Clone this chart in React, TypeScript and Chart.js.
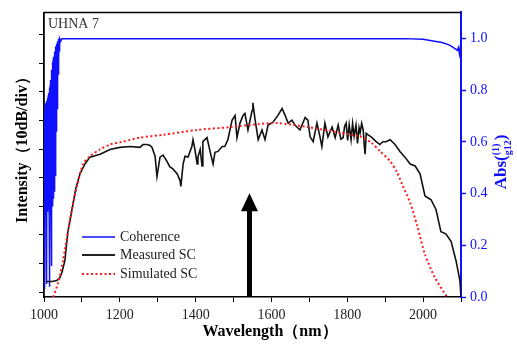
import React, { useEffect, useRef } from "react";
import { Chart, registerables } from "chart.js";

Chart.register(...registerables);

// ---- data ----
const measuredNm = [
  1005, 1021, 1034, 1042, 1047, 1055, 1063, 1077, 1084, 1095, 1108, 1121, 1148, 1174, 1200, 1227, 1253, 1261, 1272, 1280,
  1285, 1293, 1298, 1306, 1314, 1324, 1332, 1340, 1351, 1359, 1361, 1367, 1372, 1380, 1390, 1393, 1398, 1404, 1406, 1412,
  1417, 1419, 1430, 1438, 1446, 1451, 1459, 1470, 1477, 1485, 1496, 1504, 1509, 1517, 1525, 1530, 1538, 1549, 1551, 1557,
  1565, 1575, 1583, 1591, 1604, 1617, 1628, 1636, 1644, 1654, 1662, 1675, 1689, 1696, 1702, 1710, 1720, 1728, 1733, 1741,
  1749, 1760, 1768, 1776, 1783, 1789, 1793, 1797, 1801, 1805, 1810, 1814, 1818, 1823, 1827, 1831, 1834, 1838, 1842, 1845,
  1847, 1850, 1855, 1863, 1876, 1886, 1894, 1902, 1913, 1926, 1939, 1952, 1966, 1979, 1992, 2005, 2021, 2034, 2047, 2060,
  2074, 2087, 2097, 2100,
];
const measuredDb = [
  3.7, 3.7, 4.1, 5.1, 6.8, 10.9, 21.1, 31.2, 36.3, 41.4, 44.8, 47.2, 48.2, 49.9, 50.6, 50.9, 50.6, 51.6, 51.6, 51.3,
  50.6, 47.5, 40.4, 47.2, 47.9, 45.8, 43.8, 43.1, 41.4, 39.0, 37.0, 44.8, 47.5, 47.2, 50.9, 53.3, 49.9, 44.8, 47.2, 49.9,
  44.1, 52.6, 54.0, 49.2, 44.8, 48.9, 49.2, 50.9, 50.9, 53.3, 60.1, 61.8, 54.0, 59.1, 61.8, 62.5, 56.7, 63.5, 66.2, 60.1,
  53.3, 56.7, 53.3, 58.4, 59.4, 61.8, 64.2, 61.8, 59.1, 60.1, 58.4, 56.7, 61.1, 60.1, 54.3, 52.6, 59.1, 54.3, 50.9, 59.1,
  54.3, 57.7, 54.0, 58.4, 53.5, 54.0, 58.0, 59.1, 53.0, 58.5, 53.3, 59.0, 54.5, 58.4, 52.0, 57.5, 55.7, 59.0, 56.7, 51.0,
  48.2, 55.5, 55.0, 54.3, 52.6, 51.6, 52.6, 52.6, 53.3, 51.6, 49.2, 47.2, 44.8, 44.1, 41.4, 33.6, 32.3, 28.9, 21.1, 20.4,
  17.7, 10.9, 4.1, -1.7,
];

const simulatedNm = [
  1024, 1037, 1050, 1063, 1077, 1087, 1103, 1121, 1148, 1174, 1208, 1253, 1314, 1404, 1491, 1570, 1617, 1696, 1783, 1836,
  1863, 1886, 1913, 1931, 1947, 1966, 1984, 2005, 2031, 2063,
];
const simulatedDb = [
  -1.7, 3.1, 10.9, 21.1, 31.2, 37.0, 44.8, 47.5, 49.9, 51.6, 52.6, 54.0, 55.0, 56.7, 57.7, 58.8, 59.1, 57.7, 55.7, 54.3,
  52.3, 49.3, 45.8, 42.0, 37.0, 31.2, 23.4, 13.2, 5.1, -1.7,
];

const coherenceNm = [
  1000, 1000.5, 1001, 1001.5, 1002, 1002.5, 1003, 1003.5, 1004, 1004.5, 1005, 1005.5, 1006, 1006.5, 1007, 1007.5,
  1008, 1008.5, 1009, 1009.5, 1010, 1010.5, 1011, 1011.5, 1012, 1012.5, 1013, 1013.5, 1014, 1014.5, 1015, 1015.5,
  1016, 1016.5, 1017, 1017.5, 1018, 1018.5, 1019, 1019.5, 1020, 1020.5, 1021, 1021.5, 1022, 1022.5, 1023, 1023.5,
  1024, 1024.5, 1025, 1025.5, 1026, 1026.5, 1027, 1027.5, 1028, 1028.5, 1029, 1029.5, 1030, 1030.5, 1031, 1031.5,
  1032, 1032.5, 1033, 1033.5, 1034, 1034.5, 1035, 1035.5, 1036, 1036.5, 1037, 1037.5, 1038, 1038.5, 1039, 1039.5,
  1040, 1040.5, 1041, 1041.5, 1042, 1044, 1047, 1050, 1060, 1200, 1400, 1600, 1800, 1950, 2000, 2030, 2050, 2070,
  2085, 2090, 2093, 2096, 2098, 2100,
];
const coherenceAbs = [
  0.68, 0.30, 0.72, 0.03, 0.70, 0.34, 0.74, 0.32, 0.73, 0.36, 0.75, 0.33, 0.70, 0.35, 0.76, 0.05,
  0.74, 0.34, 0.77, 0.37, 0.75, 0.33, 0.78, 0.36, 0.79, 0.34, 0.77, 0.37, 0.80, 0.04, 0.81, 0.35,
  0.82, 0.36, 0.80, 0.34, 0.84, 0.37, 0.85, 0.35, 0.87, 0.12, 0.88, 0.36, 0.89, 0.35, 0.91, 0.37,
  0.92, 0.38, 0.91, 0.40, 0.93, 0.41, 0.94, 0.42, 0.95, 0.43, 0.95, 0.47, 0.96, 0.52, 0.97, 0.58,
  0.97, 0.64, 0.98, 0.68, 0.98, 0.73, 0.98, 0.78, 0.99, 0.82, 0.99, 0.86, 0.99, 0.89, 1.0, 0.92,
  1.0, 0.95, 1.0, 0.97, 1.0, 0.99, 1.0, 1.0, 1.0, 1.0, 1.0, 1.0, 1.0, 1.0, 0.998, 0.99, 0.985, 0.975,
  0.96, 0.955, 0.965, 0.94, 0.965, 0.95,
];

const xTicks = [1000, 1100, 1200, 1300, 1400, 1500, 1600, 1700, 1800, 1900, 2000, 2100];
const leftTicks = [0, 10, 20, 30, 40, 50, 60, 70, 80, 90];
const rightTicks = [0, 0.2, 0.4, 0.6, 0.8, 1.0];

const legendLabels = ["Coherence", "Measured SC", "Simulated SC"];
const pumpNm = 1542;
const pumpArrowTopDb = 34.6;

const BLUE = "#1010ff";
const RED = "#ff1a1a";
const BLACK = "#000000";
const SERIF = '"Liberation Serif", "Times New Roman", serif';

const toPoints = (xs: number[], ys: number[]) => xs.map((x, i) => ({ x, y: ys[i] }));

const decorPlugin = {
  id: "decor",
  afterDraw(chart: any) {
    const { ctx, chartArea, scales } = chart;
    const { left, right, top, bottom } = chartArea;
    ctx.save();

    // top border
    ctx.strokeStyle = BLACK;
    ctx.lineWidth = 1.5;
    ctx.beginPath();
    ctx.moveTo(left, top);
    ctx.lineTo(right, top);
    ctx.stroke();

    // UHNA 7 label
    ctx.fillStyle = "#333";
    ctx.font = `14px ${SERIF}`;
    ctx.textBaseline = "middle";
    ctx.textAlign = "left";
    ctx.fillText("UHNA 7", left + 4, top + 12);

    // legend
    const rows = [237, 255, 274];
    const styles = [
      { color: BLUE, dash: [] as number[], width: 1.5 },
      { color: "#222", dash: [] as number[], width: 2 },
      { color: RED, dash: [2, 2.5], width: 2 },
    ];
    rows.forEach((ry, i) => {
      const st = styles[i];
      ctx.strokeStyle = st.color;
      ctx.lineWidth = st.width;
      ctx.setLineDash(st.dash);
      ctx.beginPath();
      ctx.moveTo(82, ry);
      ctx.lineTo(115, ry);
      ctx.stroke();
      ctx.setLineDash([]);
      ctx.fillStyle = "#222";
      ctx.font = `14px ${SERIF}`;
      ctx.textAlign = "left";
      ctx.textBaseline = "middle";
      ctx.fillText(legendLabels[i], 120, ry + 0.5);
    });

    // pump arrow
    const ax = scales.x.getPixelForValue(pumpNm);
    const ay = scales.y.getPixelForValue(pumpArrowTopDb);
    ctx.fillStyle = BLACK;
    ctx.fillRect(ax - 2.5, ay + 17, 5, bottom - (ay + 17));
    ctx.beginPath();
    ctx.moveTo(ax, ay);
    ctx.lineTo(ax - 8.5, ay + 18);
    ctx.lineTo(ax + 8.5, ay + 18);
    ctx.closePath();
    ctx.fill();

    // x title
    ctx.fillStyle = BLACK;
    ctx.font = `bold 16px ${SERIF}`;
    ctx.textAlign = "center";
    ctx.textBaseline = "middle";
    ctx.fillText("Wavelength\uFF08nm\uFF09", 270, 332);

    // left title
    ctx.save();
    ctx.translate(23, 146);
    ctx.rotate(-Math.PI / 2);
    ctx.font = `bold 16px ${SERIF}`;
    ctx.textAlign = "center";
    ctx.textBaseline = "middle";
    ctx.fillText("Intensity\uFF0810dB/div\uFF09", 0, 0);
    ctx.restore();

    // right title: Abs(g12^(1))
    ctx.save();
    ctx.translate(502, 162);
    ctx.rotate(-Math.PI / 2);
    ctx.fillStyle = BLUE;
    ctx.textBaseline = "middle";
    ctx.textAlign = "left";
    const big = `bold 17px ${SERIF}`;
    const small = `bold 10px ${SERIF}`;
    ctx.font = big;
    const wA = ctx.measureText("Abs(").width;
    const wC = ctx.measureText(")").width;
    ctx.font = small;
    const wSup = ctx.measureText("(1)").width;
    const wSub = ctx.measureText("g12").width;
    const wMid = Math.max(wSup, wSub);
    const total = wA + wMid + wC;
    const x0 = -total / 2;
    ctx.font = big;
    ctx.fillText("Abs(", x0, 0);
    ctx.font = small;
    ctx.fillText("(1)", x0 + wA, -6);
    ctx.fillText("g12", x0 + wA, 6);
    ctx.font = big;
    ctx.fillText(")", x0 + wA + wMid, 0);
    ctx.restore();

    ctx.restore();
  },
};

export default function App() {
  const ref = useRef<HTMLCanvasElement>(null);

  useEffect(() => {
    const canvas = ref.current;
    if (!canvas) return;
    const tickFont = { family: SERIF, size: 14 };
    const chart = new Chart(canvas, {
      type: "line",
      data: {
        datasets: [
          {
            label: "Simulated SC",
            data: toPoints(simulatedNm, simulatedDb),
            yAxisID: "y",
            borderColor: RED,
            borderWidth: 2,
            borderDash: [2, 2.5],
            pointRadius: 0,
            tension: 0.25,
            fill: false,
          },
          {
            label: "Measured SC",
            data: toPoints(measuredNm, measuredDb),
            yAxisID: "y",
            borderColor: "#111",
            borderWidth: 1.6,
            pointRadius: 0,
            tension: 0,
            fill: false,
          },
          {
            label: "Coherence",
            data: toPoints(coherenceNm, coherenceAbs),
            yAxisID: "y2",
            borderColor: BLUE,
            borderWidth: 1.5,
            pointRadius: 0,
            tension: 0,
            fill: false,
          },
        ],
      },
      options: {
        responsive: false,
        animation: false,
        layout: { padding: { top: 4, left: 0, right: 0, bottom: 0 } },
        plugins: { legend: { display: false }, tooltip: { enabled: false } },
        scales: {
          x: {
            type: "linear",
            position: "bottom",
            min: 1000,
            max: 2100,
            afterBuildTicks: (s: any) => {
              s.ticks = xTicks.map((v) => ({ value: v }));
            },
            afterFit: (s: any) => {
              s.height = 49;
            },
            ticks: {
              autoSkip: false,
              maxRotation: 0,
              color: "#222",
              font: tickFont,
              padding: 5,
              callback: (v: any) => (Number(v) % 200 === 0 ? String(v) : ""),
            },
            grid: { drawOnChartArea: false, drawTicks: true, tickLength: 5, color: BLACK, tickWidth: 1 },
            border: { color: BLACK, width: 1.5 },
          },
          y: {
            type: "linear",
            position: "left",
            min: -1.7,
            max: 97.8,
            afterBuildTicks: (s: any) => {
              s.ticks = leftTicks.map((v) => ({ value: v }));
            },
            afterFit: (s: any) => {
              s.width = 44;
            },
            ticks: { display: false },
            grid: { drawOnChartArea: false, drawTicks: true, tickLength: 5, color: BLACK, tickWidth: 1 },
            border: { color: BLACK, width: 1.8 },
          },
          y2: {
            type: "linear",
            position: "right",
            min: 0,
            max: 1.1015,
            afterBuildTicks: (s: any) => {
              s.ticks = rightTicks.map((v) => ({ value: v }));
            },
            afterFit: (s: any) => {
              s.width = 56;
            },
            ticks: {
              color: BLUE,
              font: tickFont,
              padding: 4,
              callback: (v: any) => Number(v).toFixed(1),
            },
            grid: { drawOnChartArea: false, drawTicks: true, tickLength: 5, color: BLUE, tickWidth: 1.5 },
            border: { color: BLUE, width: 2 },
          },
        },
      },
      plugins: [decorPlugin],
    } as any);
    return () => chart.destroy();
  }, []);

  return (
    <div style={{ position: "fixed", left: 0, top: 0, width: 517, height: 346, background: "#fff" }}>
      <canvas ref={ref} width={517} height={346} style={{ display: "block" }} />
    </div>
  );
}
